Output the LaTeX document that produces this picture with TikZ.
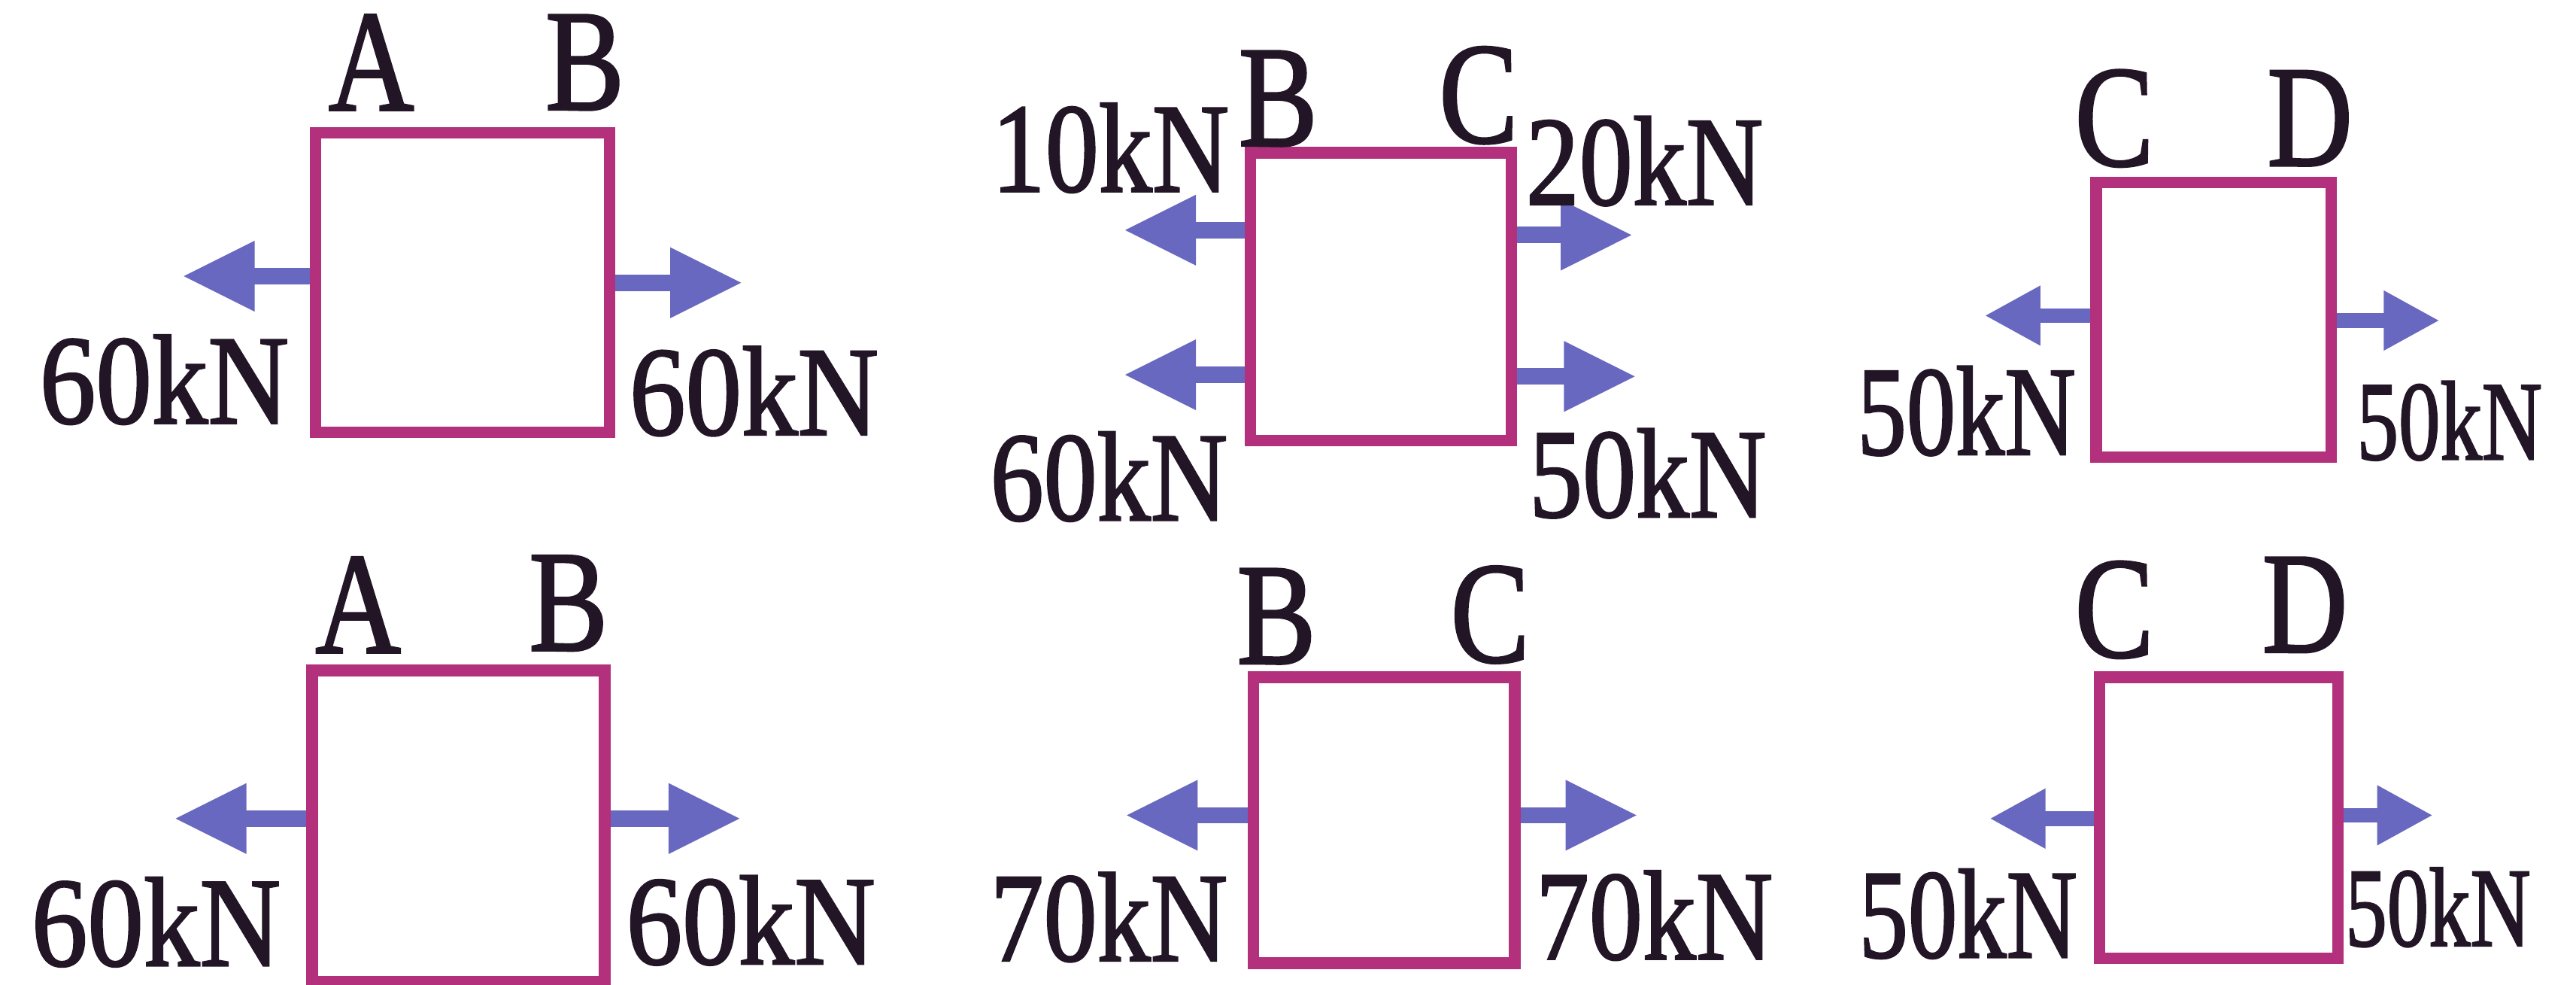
\documentclass[tikz,border=0pt]{standalone}
\usepackage{fontspec}
\setmainfont{Liberation Serif}[BoldFont=Liberation Serif, BoldFeatures={FakeBold=1.6}]
\usetikzlibrary{arrows.meta}
\definecolor{boxc}{RGB}{178,48,124}
\definecolor{arrc}{RGB}{104,104,192}
\definecolor{txtc}{RGB}{34,22,38}
\tikzset{
  bar/.style={draw=boxc, line width=0.07cm, inner sep=0pt, rectangle},
  force/.style={draw=arrc, line width=0.10cm, -{Triangle[length=0.44cm,width=0.40cm]}},
  forcesm/.style={draw=arrc, line width=0.09cm, -{Triangle[length=0.34cm,width=0.34cm]}},
  pt/.style={text=txtc, inner sep=0pt, font=\fontsize{25}{25}\selectfont\bfseries, xscale=0.82},
  lbl/.style={text=txtc, inner sep=0pt, font=\fontsize{22}{22}\selectfont\bfseries, xscale=0.84},
  lblsm/.style={text=txtc, inner sep=0pt, font=\fontsize{19.5}{19.5}\selectfont\bfseries, xscale=0.74}
}
\begin{document}
\begin{tikzpicture}[x=0.01cm, y=-0.01cm]
\useasboundingbox[fill=white] (0,0) rectangle (1568,599);

% ---------- top row ----------
\node[bar, minimum width=1.79cm, minimum height=1.82cm] (b1) at (281.5,172) {};
\node[pt] (b1A) at (226,38) {A};
\node[pt] (b1B) at (356,38) {B};
\coordinate (b1l) at (111,168);
\coordinate (b1r) at (452,172);
\draw[force] (b1.west |- b1l) -- (b1l);
\draw[force] (b1.east |- b1r) -- (b1r);
\node[lbl, xscale=1.05] (b1fl) at (100,231) {60kN};
\node[lbl, xscale=1.05] (b1fr) at (459,238) {60kN};

\node[bar, minimum width=1.59cm, minimum height=1.75cm] (b2) at (840.5,180.5) {};
\node[pt] (b2B) at (778,60) {B};
\node[pt] (b2C) at (900,58) {C};
\coordinate (b2ul) at (684,140);
\coordinate (b2ur) at (994,143);
\coordinate (b2ll) at (684,228);
\coordinate (b2lr) at (996,229);
\draw[force] (b2.west |- b2ul) -- (b2ul);
\draw[force] (b2.east |- b2ur) -- (b2ur);
\draw[force] (b2.west |- b2ll) -- (b2ll);
\draw[force] (b2.east |- b2lr) -- (b2lr);
\node[lbl] (b2f1) at (676,90) {10kN};
\node[lbl] (b2f2) at (1001,98) {20kN};
\node[lbl] (b2f3) at (675,290) {60kN};
\node[lbl] (b2f4) at (1003,288) {50kN};

\node[bar, minimum width=1.43cm, minimum height=1.67cm] (b3) at (1347.5,194.5) {};
\node[pt] (b3C) at (1287,72) {C};
\node[pt] (b3D) at (1406,72) {D};
\coordinate (b3l) at (1208,192);
\coordinate (b3r) at (1485,195);
\draw[forcesm] (b3.west |- b3l) -- (b3l);
\draw[forcesm] (b3.east |- b3r) -- (b3r);
\node[lbl, xscale=0.92] (b3fl) at (1197,250) {50kN};
\node[lblsm] (b3fr) at (1491,256) {50kN};

% ---------- bottom row ----------
\node[bar, minimum width=1.78cm, minimum height=1.89cm] (b4) at (279,502.5) {};
\node[pt] (b4A) at (218,368) {A};
\node[pt] (b4B) at (346,367) {B};
\coordinate (b4l) at (106,498);
\coordinate (b4r) at (451,498);
\draw[force] (b4.west |- b4l) -- (b4l);
\draw[force] (b4.east |- b4r) -- (b4r);
\node[lbl, xscale=1.05] (b4fl) at (95,561) {60kN};
\node[lbl, xscale=1.05] (b4fr) at (457,560) {60kN};

\node[bar, minimum width=1.59cm, minimum height=1.74cm] (b5) at (842.5,499) {};
\node[pt] (b5B) at (777,375) {B};
\node[pt] (b5C) at (907,374) {C};
\coordinate (b5l) at (685,496);
\coordinate (b5r) at (997,496);
\draw[force] (b5.west |- b5l) -- (b5l);
\draw[force] (b5.east |- b5r) -- (b5r);
\node[lbl] (b5fl) at (675,558) {70kN};
\node[lbl] (b5fr) at (1007,557) {70kN};

\node[bar, minimum width=1.45cm, minimum height=1.71cm] (b6) at (1350.5,497.5) {};
\node[pt] (b6C) at (1287,371) {C};
\node[pt] (b6D) at (1403,368) {D};
\coordinate (b6l) at (1211,498);
\coordinate (b6r) at (1481,496);
\draw[forcesm] (b6.west |- b6l) -- (b6l);
\draw[forcesm] (b6.east |- b6r) -- (b6r);
\node[lbl, xscale=0.92] (b6fl) at (1198,556) {50kN};
\node[lblsm] (b6fr) at (1484,552) {50kN};
\end{tikzpicture}
\end{document}
